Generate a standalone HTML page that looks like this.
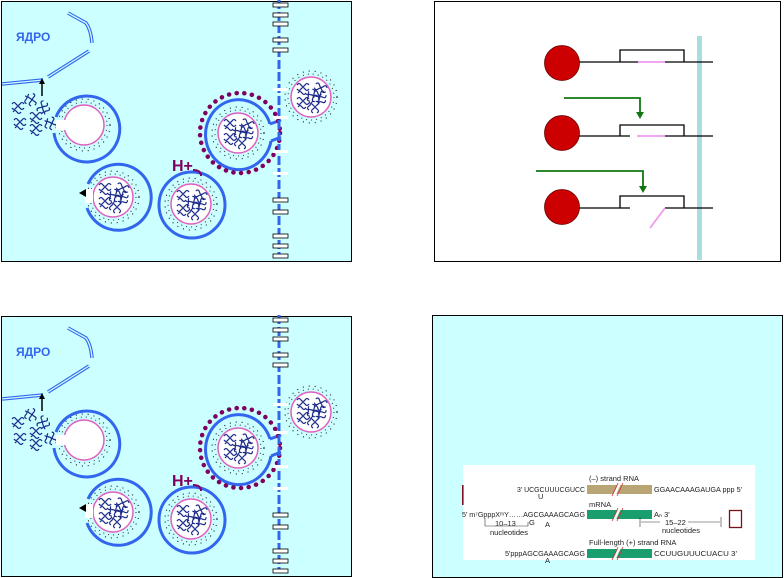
<!DOCTYPE html>
<html><head><meta charset="utf-8"><style>
html,body{margin:0;padding:0;background:#fff;width:784px;height:578px;overflow:hidden}
svg{display:block}
.t{font-family:"Liberation Sans",sans-serif;font-size:7.5px;fill:#222}
</style></head><body>
<svg width="784" height="578" viewBox="0 0 784 578" xmlns="http://www.w3.org/2000/svg">
<defs>
<g id="scr" fill="none" stroke="#1a2a8a" stroke-width="1.2">
<path d="M-6,-4 q2,-3 4,0 t4,0 t4,0 M-6,0 q2,3 4,0 t4,0 t4,0 M-5,4 q2,-3 4,0 t4,0"/>
</g>
<g id="ves">
<circle r="20" fill="#fff" stroke="#e060c0" stroke-width="1.5"/>
<circle r="23" fill="none" stroke="#333" stroke-width="1" stroke-dasharray="1 4"/>
<circle r="26" fill="none" stroke="#000" stroke-width="1" stroke-dasharray="1 5"/>
</g>
<g id="filled">
<use href="#ves"/>
<use href="#scr" x="-8" y="-8"/><use href="#scr" x="6" y="-10" transform="rotate(20)"/>
<use href="#scr" x="-8" y="6"/><use href="#scr" x="8" y="6" transform="rotate(-30)"/>
<use href="#scr" x="0" y="-1" transform="rotate(60)"/><use href="#scr" x="10" y="-2" transform="rotate(90)"/>
</g>
<g id="panel">
<rect x="1.5" y="1.5" width="350" height="260" fill="#ccffff" stroke="#000" stroke-width="1"/>
<g fill="none" stroke="#3366ee" stroke-width="3.5"><path d="M68,13 L86,23 Q91,30 92,43"/><path d="M89,51 L48,77"/><path d="M43,80 L2,84"/></g>
<g fill="none" stroke="#ccffff" stroke-width="1.3"><path d="M68,13 L86,23 Q91,30 92,43"/><path d="M89,51 L48,77"/><path d="M43,80 L2,84"/></g>
<path d="M42,96 V82" stroke="#000" stroke-width="1.5"/><path d="M39,84 L42,78 L45,84Z" fill="#000"/>
<use href="#scr" x="18" y="108"/><use href="#scr" x="30" y="100" transform="rotate(80 30 100)"/><use href="#scr" x="36" y="118"/>
<use href="#scr" x="20" y="124"/><use href="#scr" x="44" y="108" transform="rotate(-60 44 108)"/><use href="#scr" x="36" y="130"/><use href="#scr" x="50" y="124" transform="rotate(70 50 124)"/>
<use href="#ves" x="84" y="125"/>
<path d="M56,117 A33,33 0 1 1 54,133" fill="none" stroke="#3366ee" stroke-width="3"/>
<rect x="56" y="120" width="10" height="10" fill="#fff"/>
<use href="#filled" x="113" y="197"/>
<path d="M88,184 A33,33 0 1 1 87,208" fill="none" stroke="#3366ee" stroke-width="3"/>
<rect x="85" y="189" width="8" height="14" fill="#fff"/>
<path d="M79,193 L86,189 L86,197Z" fill="#000"/>
<use href="#filled" x="191" y="204"/>
<circle cx="192" cy="205" r="33" fill="none" stroke="#3366ee" stroke-width="3"/>
<text x="172" y="171" font-family="Liberation Sans,sans-serif" font-weight="bold" font-size="16" fill="#800060">H+</text>
<path d="M193,170 q8,0 8,6" fill="none" stroke="#800060" stroke-width="2"/>
<use href="#filled" x="238" y="133"/>
<path d="M270,124 A33,35 0 1 0 271,141" fill="none" stroke="#3366ee" stroke-width="3"/>
<path d="M270,124 L281,120 M271,141 L281,137" stroke="#3366ee" stroke-width="3"/>
<circle cx="240" cy="133" r="40" fill="none" stroke="#800060" stroke-width="4.5" stroke-dasharray="0.1 7.6" stroke-linecap="round"/>
<use href="#filled" x="311" y="97"/>
<path d="M279,0 V258" stroke="#3366ee" stroke-width="3" stroke-dasharray="9 3"/>
<g fill="#fff" stroke="#000" stroke-width="0.8">
<rect x="273" y="3" width="15" height="4"/><rect x="273" y="13" width="15" height="4"/><rect x="273" y="22" width="15" height="4"/>
<rect x="273" y="38" width="15" height="4"/><rect x="273" y="48" width="15" height="4"/>
<rect x="273" y="88" width="15" height="3" stroke="none"/><rect x="273" y="116" width="15" height="3" stroke="none"/>
<rect x="273" y="150" width="15" height="3" stroke="none"/><rect x="273" y="172" width="15" height="3" stroke="none"/>
<rect x="273" y="198" width="15" height="4"/><rect x="273" y="210" width="15" height="4"/>
<rect x="273" y="234" width="15" height="4"/><rect x="273" y="244" width="15" height="4"/><rect x="273" y="254" width="15" height="4"/>
</g>
</g>
</defs>

<use href="#panel"/>
<text x="16" y="41" font-family="Liberation Sans,sans-serif" font-weight="bold" font-size="12" fill="#3366ee">ЯДРО</text>
<use href="#panel" y="315"/>
<text x="16" y="356" font-family="Liberation Sans,sans-serif" font-weight="bold" font-size="12" fill="#3366ee">ЯДРО</text>

<rect x="434.5" y="1.5" width="346" height="260" fill="#fff" stroke="#000"/>
<rect x="697" y="36" width="5" height="224" fill="#aadddd"/>
<g stroke="#000" stroke-width="1.3" fill="none">
<circle cx="562" cy="63" r="17.5" fill="#cc0000" stroke="#660000" stroke-width="0.8"/>
<circle cx="562" cy="133" r="17.5" fill="#cc0000" stroke="#660000" stroke-width="0.8"/>
<circle cx="562" cy="207" r="17.5" fill="#cc0000" stroke="#660000" stroke-width="0.8"/>
<path d="M579,62 H638 M665,62 H713"/><path d="M620,62 V50 H684 V62"/>
<path d="M579,136 H630 M665,136 H713"/><path d="M620,136 V125 H684 V136"/>
<path d="M579,208 H630 M665,208 H713"/><path d="M620,208 V196 H684 V208"/>
</g>
<g stroke="#ee99ee" stroke-width="1.8"><path d="M638,62 H665"/><path d="M637,136 H665"/><path d="M650,228 L665,208"/></g>
<g stroke="#117711" stroke-width="1.8" fill="none"><path d="M564,98 H640 V113"/><path d="M536,171 H643 V187"/></g>
<path d="M636,112 L640,119 L644,112Z M639,186 L643,193 L647,186Z" fill="#117711"/>

<rect x="432.5" y="315.5" width="350" height="262" fill="#ccffff" stroke="#000"/>
<rect x="463" y="465" width="292" height="95" fill="#fff"/>
<rect x="462" y="485" width="1.6" height="20" fill="#7a1020"/>
<rect x="729.5" y="510.5" width="12" height="17" fill="none" stroke="#7a1020" stroke-width="1.3"/>
<text class="t" x="589" y="481">(–) strand RNA</text>
<text class="t" x="517" y="492" textLength="68" lengthAdjust="spacingAndGlyphs">3' UCGCUUUCGUCC</text>
<rect x="587" y="485" width="65" height="9" fill="#b8a474"/>
<text class="t" x="654" y="492" textLength="88" lengthAdjust="spacingAndGlyphs">GGAACAAAGAUGA ppp 5'</text>
<text class="t" x="538" y="499">U</text>
<text class="t" x="589" y="507">mRNA</text>
<text class="t" x="462" y="517" textLength="123" lengthAdjust="spacingAndGlyphs">5' m⁷GpppXᵐY……AGCGAAAGCAGG</text>
<rect x="587" y="510" width="65" height="9" fill="#1a9e6e"/>
<text class="t" x="654" y="517">Aₙ 3'</text>
<text class="t" x="529" y="525">G</text><text class="t" x="545" y="527">A</text>
<path d="M485,518 V526 H528 V522" fill="none" stroke="#333" stroke-width="0.6"/>
<text class="t" x="495" y="526">10–13</text>
<text class="t" x="490" y="535">nucleotides</text>
<path d="M640,517 V527 M721,517 V527 M641,522 H660 M688,522 H720" stroke="#333" stroke-width="0.6"/>
<text class="t" x="665" y="525">15–22</text>
<text class="t" x="662" y="533">nucleotides</text>
<text class="t" x="589" y="545">Full-length (+) strand RNA</text>
<text class="t" x="505" y="556" textLength="80" lengthAdjust="spacingAndGlyphs">5'pppAGCGAAAGCAGG</text>
<rect x="587" y="549" width="65" height="9" fill="#1a9e6e"/>
<text class="t" x="654" y="556" textLength="83" lengthAdjust="spacingAndGlyphs">CCUUGUUUCUACU  3'</text>
<text class="t" x="545" y="563">A</text>
<g stroke="#fff" stroke-width="2.5"><path d="M614,496 L620,483 M614,521 L620,508 M614,560 L620,547"/></g>
<g stroke="#cc3333" stroke-width="0.8"><path d="M612,496 L618,483 M617,496 L623,483 M612,521 L618,508 M617,521 L623,508 M612,560 L618,547 M617,560 L623,547"/></g>
</svg>
</body></html>
